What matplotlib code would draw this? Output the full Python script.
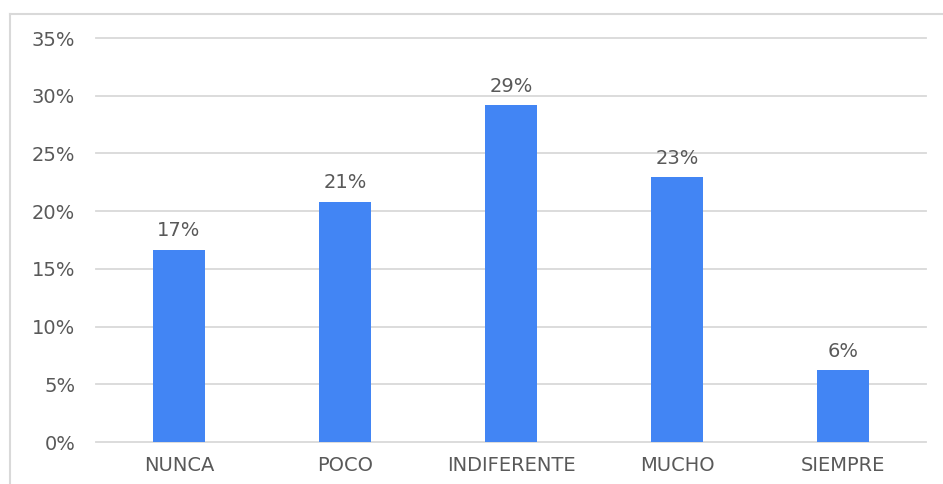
import matplotlib
matplotlib.use("Agg")
import matplotlib.pyplot as plt
from matplotlib.lines import Line2D

categories = ["NUNCA", "POCO", "INDIFERENTE", "MUCHO", "SIEMPRE"]
values = [16.67, 20.83, 29.17, 22.92, 6.25]
labels = ["17%", "21%", "29%", "23%", "6%"]
yticks = [0, 5, 10, 15, 20, 25, 30, 35]
ytick_labels = ["0%", "5%", "10%", "15%", "20%", "25%", "30%", "35%"]

plt.rcParams['font.family'] = ['DejaVu Sans']
text_color = "#595959"
fs = 14

fig = plt.figure(figsize=(9.43, 4.84), dpi=100)
ax = fig.add_axes([96/943, 1-442/484, 830/943, 404/484])

x = list(range(len(categories)))
ax.bar(x, values, width=0.31, color="#4285F4", zorder=3)
for xi, v, l in zip(x, values, labels):
    ax.text(xi, v + 1.15, l, ha="center", va="baseline", fontsize=fs, color=text_color)

ax.set_xlim(-0.5, len(categories) - 0.5)
ax.set_ylim(0, 35)
ax.set_yticks(yticks)
ax.set_yticklabels(ytick_labels)
ax.set_xticks(x)
ax.set_xticklabels(categories)
ax.tick_params(axis="both", length=0, labelsize=fs, labelcolor=text_color)
ax.tick_params(axis="y", pad=15)
ax.tick_params(axis="x", pad=10)
ax.yaxis.grid(True, color="#d9d9d9", linewidth=1.3, zorder=0)
ax.set_axisbelow(True)
for gl in ax.get_ygridlines():
    gl.set_clip_on(False)
for s in ax.spines.values():
    s.set_visible(False)

# outer frame (top and left)
fig.add_artist(Line2D([10/943, 1.0], [1-14/484, 1-14/484], transform=fig.transFigure, color="#d9d9d9", linewidth=1.5))
fig.add_artist(Line2D([10/943, 10/943], [0, 1-14/484], transform=fig.transFigure, color="#d9d9d9", linewidth=1.5))

fig.savefig("out.png", dpi=100, facecolor="white")
